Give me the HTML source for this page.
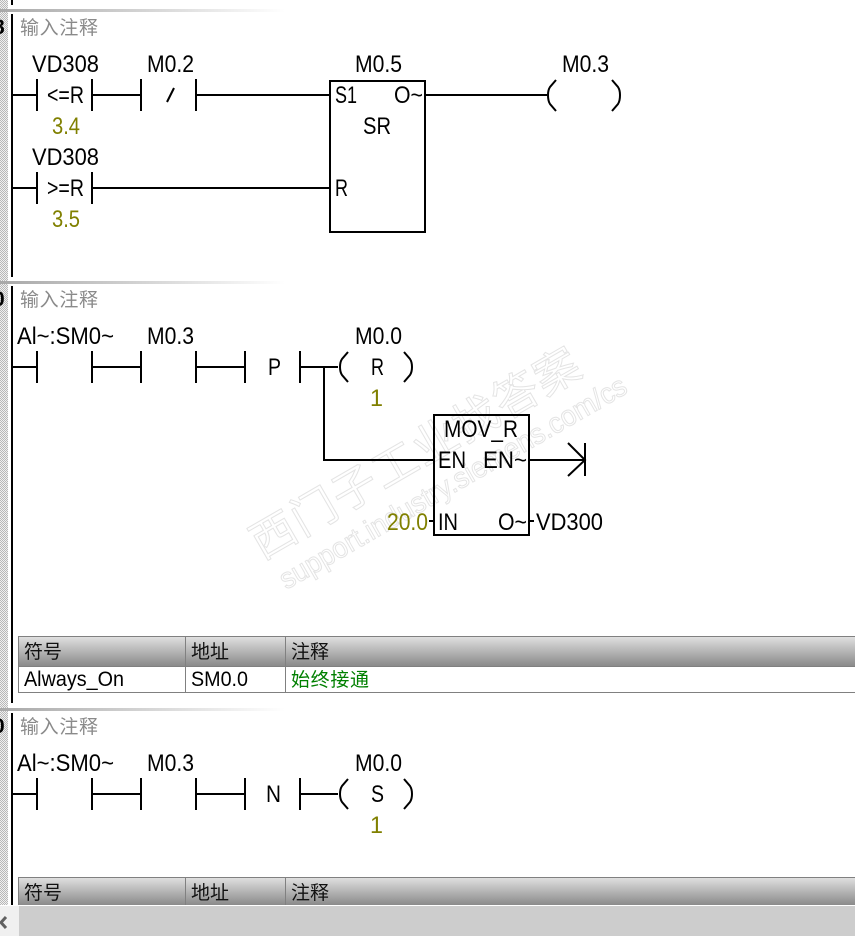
<!DOCTYPE html>
<html><head><meta charset="utf-8">
<style>
html,body{margin:0;padding:0;background:#fff;width:855px;height:936px;overflow:hidden}
svg{display:block}
text{font-family:"Liberation Sans","Noto Sans CJK SC",sans-serif;fill:#000}
.t{font-size:24.5px}
.o{font-size:24.5px;fill:#808000}
.c{font-size:19px;fill:#8a8a8a;font-family:"WenQuanYi Zen Hei","Noto Sans CJK SC",sans-serif}
.h{font-size:19px;fill:#111;font-family:"WenQuanYi Zen Hei","Noto Sans CJK SC",sans-serif}
.d{font-size:21px}
.w{fill:none;stroke:#000;stroke-width:2}
.wm{fill:#fff;stroke:#e4e4e4;stroke-width:1}
</style></head><body>
<svg width="855" height="936" viewBox="0 0 855 936" xmlns="http://www.w3.org/2000/svg">
<defs>
<linearGradient id="sep" x1="0" x2="1" y1="0" y2="0"><stop offset="0" stop-color="#a8a8a8"/><stop offset="1" stop-color="#fff"/></linearGradient>
<linearGradient id="hd" x1="0" x2="0" y1="0" y2="1"><stop offset="0" stop-color="#e2e2e2"/><stop offset="1" stop-color="#8a8a8a"/></linearGradient>
<pattern id="dith" width="2" height="2" patternUnits="userSpaceOnUse"><rect width="2" height="2" fill="#f0f0f0"/><rect width="1" height="1" fill="#b8b8b8"/><rect x="1" y="1" width="1" height="1" fill="#b8b8b8"/></pattern>
</defs>

<!-- watermark -->
<g transform="translate(262,560) rotate(-30)">
<text class="wm" x="0" y="0" style="font-size:45px" textLength="372" lengthAdjust="spacing">西门子工业找答案</text>
<text class="wm" x="6" y="38" style="font-size:29px" textLength="396" lengthAdjust="spacingAndGlyphs">support.industry.siemens.com/cs</text>
</g>

<!-- gutter -->
<rect x="0" y="0" width="8" height="906" fill="url(#dith)"/>
<rect x="0" y="9" width="285" height="3" fill="url(#sep)"/>
<rect x="0" y="281" width="285" height="3" fill="url(#sep)"/>
<rect x="0" y="708" width="285" height="3" fill="url(#sep)"/>
<g fill="#000" shape-rendering="crispEdges">
<rect x="11" y="0" width="2" height="5"/>
<rect x="11" y="14" width="2" height="263"/>
<rect x="11" y="286" width="2" height="417"/>
<rect x="11" y="713" width="2" height="193"/>
</g>
<text x="-7" y="34" style="font-size:21px;font-weight:bold">8</text>
<text x="-7" y="306" style="font-size:21px;font-weight:bold">0</text>
<text x="-7" y="733" style="font-size:21px;font-weight:bold">0</text>

<!-- comments -->
<text class="c" x="20" y="34" textLength="78">输入注释</text>
<text class="c" x="20" y="306" textLength="78">输入注释</text>
<text class="c" x="20" y="733" textLength="78">输入注释</text>

<!-- wires -->
<g class="w" shape-rendering="crispEdges">
<!-- network 1 -->
<path d="M13 95H37M37 79V111M92 79V111M92 95H141M141 79V111M196 79V111M196 95H330M425 95H547"/>
<path d="M13 188H37M37 172V204M92 172V204M92 188H330"/>
<rect x="330" y="81" width="95" height="151"/>
<!-- network 2 -->
<path d="M13 367H37M37 351V383M92 351V383M92 367H141M141 351V383M196 351V383M196 367H245M245 351V383M300 351V383M300 367H338M324 367V460H434M529 460H585M585 443V476M429 521H434M529 521H534"/>
<rect x="434" y="415" width="95" height="120"/>
<!-- network 3 -->
<path d="M13 794H37M37 778V810M92 778V810M92 794H141M141 778V810M196 778V810M196 794H245M245 778V810M300 778V810M300 794H338"/>
</g>
<g class="w">
<path d="M568 443L585 460L568 476"/>
<path d="M556 80L550 87Q548 90 548 95Q548 101 550 104L556 111M612 80L618 87Q620 90 620 95Q620 101 618 104L612 111"/>
<path d="M348 352L342 359Q340 362 340 367Q340 372 342 375L348 382M404 352L410 359Q412 362 412 367Q412 372 410 375L404 382"/>
<path d="M348 779L342 786Q340 789 340 794Q340 799 342 802L348 809M404 779L410 786Q412 789 412 794Q412 799 410 802L404 809"/>
<path d="M167 102L174 88"/>
</g>

<!-- labels network 1 -->
<text class="t" x="32" y="72" textLength="67" lengthAdjust="spacingAndGlyphs">VD308</text>
<text class="t" x="147" y="72" textLength="47" lengthAdjust="spacingAndGlyphs">M0.2</text>
<text class="t" x="355" y="72" textLength="47" lengthAdjust="spacingAndGlyphs">M0.5</text>
<text class="t" x="562" y="72" textLength="47" lengthAdjust="spacingAndGlyphs">M0.3</text>
<text class="t" x="47" y="103" textLength="37" lengthAdjust="spacingAndGlyphs">&lt;=R</text>
<text class="o" x="52" y="134" textLength="28" lengthAdjust="spacingAndGlyphs">3.4</text>
<text class="t" x="335" y="103" textLength="22" lengthAdjust="spacingAndGlyphs">S1</text>
<text class="t" x="394" y="103" textLength="29" lengthAdjust="spacingAndGlyphs">O~</text>
<text class="t" x="363" y="134" textLength="28" lengthAdjust="spacingAndGlyphs">SR</text>
<text class="t" x="32" y="165" textLength="67" lengthAdjust="spacingAndGlyphs">VD308</text>
<text class="t" x="47" y="196" textLength="37" lengthAdjust="spacingAndGlyphs">&gt;=R</text>
<text class="t" x="335" y="196" textLength="13" lengthAdjust="spacingAndGlyphs">R</text>
<text class="o" x="52" y="227" textLength="28" lengthAdjust="spacingAndGlyphs">3.5</text>

<!-- labels network 2 -->
<text class="t" x="17" y="344" textLength="97" lengthAdjust="spacingAndGlyphs">Al~:SM0~</text>
<text class="t" x="147" y="344" textLength="47" lengthAdjust="spacingAndGlyphs">M0.3</text>
<text class="t" x="355" y="344" textLength="47" lengthAdjust="spacingAndGlyphs">M0.0</text>
<text class="t" x="268" y="375" textLength="13" lengthAdjust="spacingAndGlyphs">P</text>
<text class="t" x="371" y="375" textLength="13" lengthAdjust="spacingAndGlyphs">R</text>
<text class="o" x="370" y="406" textLength="13" lengthAdjust="spacingAndGlyphs">1</text>
<text class="t" x="444" y="437" textLength="74" lengthAdjust="spacingAndGlyphs">MOV_R</text>
<text class="t" x="438" y="468" textLength="28" lengthAdjust="spacingAndGlyphs">EN</text>
<text class="t" x="483" y="468" textLength="44" lengthAdjust="spacingAndGlyphs">EN~</text>
<text class="o" x="387" y="530" textLength="41" lengthAdjust="spacingAndGlyphs">20.0</text>
<text class="t" x="438" y="530" textLength="20" lengthAdjust="spacingAndGlyphs">IN</text>
<text class="t" x="498" y="530" textLength="29" lengthAdjust="spacingAndGlyphs">O~</text>
<text class="t" x="536" y="530" textLength="67" lengthAdjust="spacingAndGlyphs">VD300</text>

<!-- labels network 3 -->
<text class="t" x="17" y="771" textLength="97" lengthAdjust="spacingAndGlyphs">Al~:SM0~</text>
<text class="t" x="147" y="771" textLength="47" lengthAdjust="spacingAndGlyphs">M0.3</text>
<text class="t" x="355" y="771" textLength="47" lengthAdjust="spacingAndGlyphs">M0.0</text>
<text class="t" x="266" y="802" textLength="15" lengthAdjust="spacingAndGlyphs">N</text>
<text class="t" x="371" y="802" textLength="13" lengthAdjust="spacingAndGlyphs">S</text>
<text class="o" x="370" y="833" textLength="13" lengthAdjust="spacingAndGlyphs">1</text>

<!-- table 1 -->
<g shape-rendering="crispEdges">
<rect x="18" y="636" width="840" height="30" fill="url(#hd)"/>
<rect x="18.5" y="636.5" width="840" height="56" fill="none" stroke="#808080"/>
<path d="M185.5 636V692M285.5 636V692M18 666.5H855" stroke="#808080" fill="none"/>
</g>
<text class="h" x="24" y="658" textLength="38">符号</text>
<text class="h" x="191" y="658" textLength="38">地址</text>
<text class="h" x="291" y="658" textLength="38">注释</text>
<text class="d" x="24" y="686" textLength="100" lengthAdjust="spacingAndGlyphs">Always_On</text>
<text class="d" x="191" y="686" textLength="57" lengthAdjust="spacingAndGlyphs">SM0.0</text>
<text class="h" x="291" y="686" textLength="78" style="fill:#008000">始终接通</text>

<!-- table 2 -->
<g shape-rendering="crispEdges">
<rect x="18" y="877" width="840" height="28" fill="url(#hd)"/>
<path d="M18.5 905V877.5H855M185.5 877V905M285.5 877V905" stroke="#808080" fill="none"/>
</g>
<text class="h" x="24" y="899" textLength="38">符号</text>
<text class="h" x="191" y="899" textLength="38">地址</text>
<text class="h" x="291" y="899" textLength="38">注释</text>

<!-- bottom scrollbar -->
<g shape-rendering="crispEdges">
<rect x="0" y="905" width="855" height="1" fill="#fff"/>
<rect x="0" y="906" width="19" height="30" fill="#f0f0f0"/>
<rect x="19" y="906" width="836" height="30" fill="#cdcdcd"/>
</g>
<path d="M6 917L1 922.5L6 928" fill="none" stroke="#606060" stroke-width="3"/>
</svg>
</body></html>
